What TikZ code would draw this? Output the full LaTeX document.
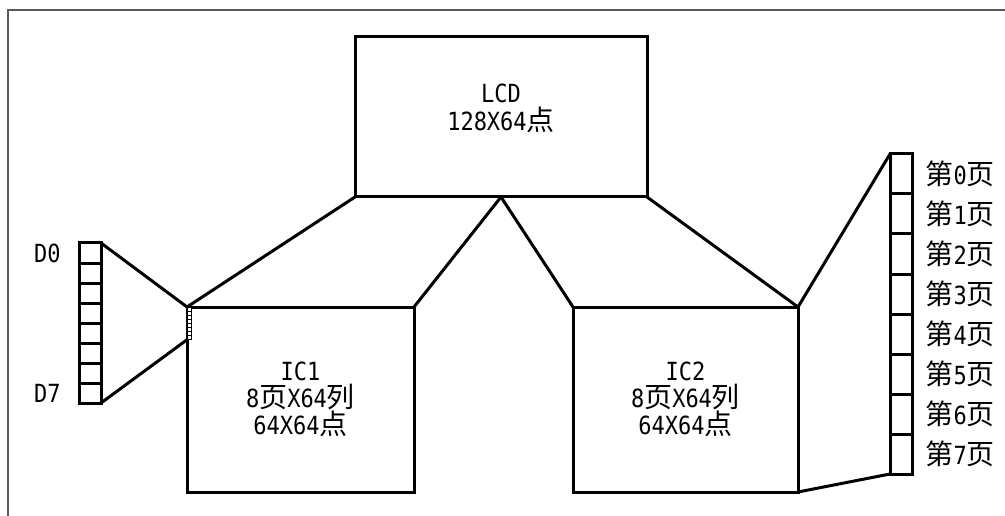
\documentclass[tikz,border=0pt]{standalone}
\usepackage{fontspec}
\setmonofont[FakeStretch=0.88]{DejaVu Sans Mono}
\newfontfamily\cjk{Noto Sans CJK SC}
\usetikzlibrary{positioning,calc}
\newcommand{\cn}[1]{{\cjk\fontsize{28}{28}\selectfont #1}}

\begin{document}
\begin{tikzpicture}[x=1pt, y=-1pt, line width=3pt,
    box/.style={draw, outer sep=0pt, inner sep=0pt, align=center,
      font=\ttfamily\fontsize{25}{27}\selectfont},
    cell/.style={draw, outer sep=0pt, inner sep=0pt, minimum width=22pt},
    lbl/.style={inner sep=0pt, font=\ttfamily\fontsize{25}{28}\selectfont}]
  \useasboundingbox (0,0) rectangle (1005,516);
  \draw[black!65, line width=1.2pt] (8,516) -- (8,10) -- (1005,10);

  % screen and the two controllers
  \node[box, minimum width=292pt, minimum height=160pt] at (501,117) (lcd) {};
  \node[lbl, align=center] at ([yshift=9pt]lcd.center) (lcdtxt) {LCD\\128X64\cn{点}};
  \node[box, minimum width=227pt, minimum height=185pt] at (300.5,399.5) (ic1)
    {IC1\\8\cn{页}X64\cn{列}\\64X64\cn{点}};
  \node[box, minimum width=225pt, minimum height=185pt] at (685.5,399.5) (ic2)
    {IC2\\8\cn{页}X64\cn{列}\\64X64\cn{点}};

  % data bus D0..D7 and its tiny copy on IC1
  \foreach \k in {0,...,7} {
    \node[cell, minimum height=20pt] at (90,{253+20*\k}) (d\k) {};
    \node[draw, fill=white, line width=0.6pt, outer sep=0pt, inner sep=0pt,
      minimum width=4pt, minimum height=4.1pt] at (189,{309+4.1*\k}) (b\k) {};
  }
  \node[lbl, left=17pt of d0] (d0lbl) {D0};
  \node[lbl, left=17pt of d7] (d7lbl) {D7};

  % pages 0..7
  \foreach \k in {0,...,7} {
    \node[cell, minimum height=40pt] at (901,{174+40*\k}) (p\k) {};
    \node[lbl, right=12pt of p\k] (p\k lbl) {\cn{第}\k\cn{页}};
  }

  \draw (lcd.south west) -- (ic1.north west);
  \draw (lcd.south) -- (ic1.north east);
  \draw (lcd.south) -- (ic2.north west);
  \draw (lcd.south east) -- (ic2.north east);
  \draw (d0.north east) -- (b0.north west);
  \draw (d7.south east) -- (b7.south west);
  \draw (p0.north west) -- (ic2.north east);
  \draw (p7.south west) -- (ic2.south east);
\end{tikzpicture}
\end{document}
